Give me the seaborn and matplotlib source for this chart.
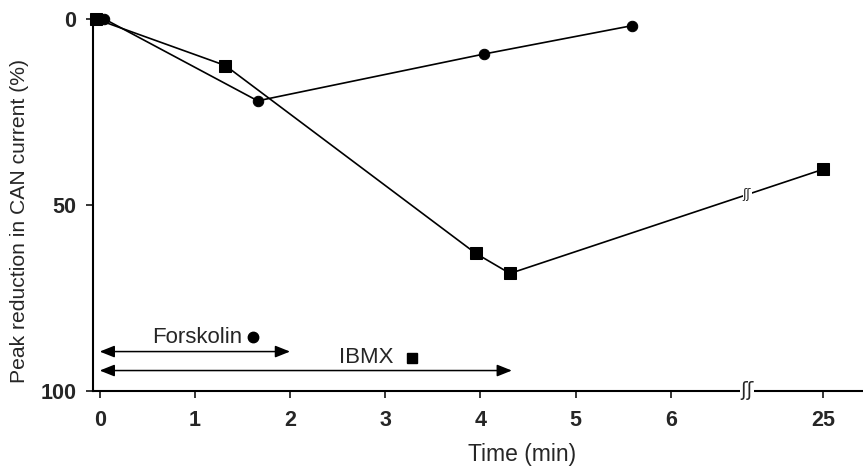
import numpy as np
import pandas as pd
import matplotlib
matplotlib.use("Agg")
import matplotlib.pyplot as plt
import seaborn as sns

# time axis: 25 min is drawn at position 7.6 after the axis break
tick_pos = [0, 1, 2, 3, 4, 5, 6, 7.6]
tick_labels = ["0", "1", "2", "3", "4", "5", "6", "25"]
break_pos = 6.8

# forskolin (circles)
forsk_t = [0.05, 1.66, 4.04, 5.59]
forsk_y = [0, 22, 9.4, 1.8]

# IBMX (squares)
ibmx_t = [-0.04, 1.32, 3.95, 4.31, 7.6]
ibmx_y = [0, 12.5, 63, 68.4, 40.4]

# drug application periods
drug_names = ["Forskolin", "IBMX"]
drug_end = [2.0, 4.33]


def main():
    sns.set_style("ticks")
    plt.rcParams["font.family"] = ["Liberation Sans", "DejaVu Sans"]

    fig = plt.figure(figsize=(8.63, 4.68), dpi=100)
    ax = fig.add_axes([93 / 863, 77 / 468, 770 / 863, 372 / 468])

    df_f = pd.DataFrame({"t": forsk_t, "y": forsk_y})
    df_i = pd.DataFrame({"t": ibmx_t, "y": ibmx_y})
    sns.lineplot(data=df_f, x="t", y="y", ax=ax, color="k", lw=1.2,
                 marker="o", markersize=7.5, markeredgecolor="k",
                 estimator=None, sort=False)
    sns.lineplot(data=df_i, x="t", y="y", ax=ax, color="k", lw=1.2,
                 marker="s", markersize=8, markeredgecolor="k",
                 estimator=None, sort=False)
    for ln in ax.lines:
        ln.set_clip_on(False)

    ax.set_xlim(-0.07, -0.07 + 770 / 95.2)
    ax.set_ylim(100, 0)
    ax.set_xticks(tick_pos)
    ax.set_xticklabels(tick_labels)
    ax.set_yticks([0, 50, 100])
    ax.tick_params(direction="out", length=5, width=1.3, labelsize=15.5, pad=7)
    ax.tick_params(axis="x", pad=9)
    for lab in ax.get_xticklabels() + ax.get_yticklabels():
        lab.set_fontweight("bold")

    sns.despine(ax=ax)
    for s in ["left", "bottom"]:
        ax.spines[s].set_linewidth(1.5)
        ax.spines[s].set_color("k")

    ax.set_ylabel("Peak reduction in CAN current (%)", fontsize=15.2, va="center")
    ax.yaxis.set_label_coords(-0.096, 0.458)
    ax.set_xlabel("Time (min)", fontsize=16.5, va="center")
    ax.xaxis.set_label_coords(0.557, -0.172)

    # drug application arrows and labels
    arrow_y = [89.4, 94.5]
    label_pos = [(1.02, 85.5), (2.8, 91)]
    sym_pos = [(1.61, 85.5), (3.28, 91)]
    sym_marker = ["o", "s"]
    for name, end, ay, lp, sp, mk in zip(drug_names, drug_end, arrow_y,
                                         label_pos, sym_pos, sym_marker):
        ax.annotate("", xy=(end, ay), xytext=(0, ay),
                    arrowprops=dict(arrowstyle="<|-|>,head_length=0.5,head_width=0.2",
                                    color="k", lw=1.1, mutation_scale=18,
                                    shrinkA=0, shrinkB=0))
        ax.text(lp[0], lp[1], name, fontsize=16, ha="center", va="center")
        ax.plot(sp[0], sp[1], marker=mk, color="k", markersize=7.5, ls="none")

    # axis break marks
    ax.text(break_pos, 100, "\u0283\u0283", fontsize=14, ha="center", va="center",
            family="DejaVu Sans", clip_on=False,
            bbox=dict(facecolor="white", edgecolor="none", pad=0.5))
    yb = np.interp(break_pos, ibmx_t[3:], ibmx_y[3:])
    ax.text(break_pos, yb, "\u0283\u0283", fontsize=9, ha="center", va="center",
            family="DejaVu Sans",
            bbox=dict(facecolor="white", edgecolor="none", pad=0.2))

    fig.savefig("out.png", dpi=100)


if __name__ == "__main__":
    main()
